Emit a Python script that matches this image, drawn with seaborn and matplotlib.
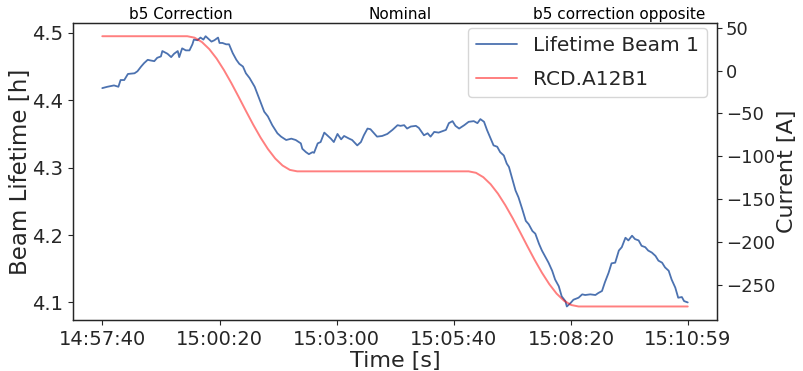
import matplotlib
matplotlib.use("Agg")
import matplotlib.pyplot as plt
from matplotlib.ticker import FuncFormatter
import pandas as pd
import seaborn as sns

# Clock time of the first sample (seconds since midnight)
T0 = 14 * 3600 + 57 * 60 + 40

# Beam 1 lifetime, seconds after T0 and hours
lifetime_t = [
    0, 7, 16, 22, 25, 30, 35, 44, 48, 53,
    57, 62, 66, 71, 75, 80, 82, 89, 94, 98,
    103, 105, 109, 114, 119, 123, 125, 130, 134, 138,
    141, 149, 153, 158, 160, 164, 169, 173, 178, 183,
    187, 192, 196, 201, 208, 214, 221, 226, 232, 239,
    244, 251, 258, 264, 271, 273, 278, 282, 287, 289,
    294, 298, 303, 307, 312, 316, 321, 326, 330, 337,
    341, 348, 353, 357, 362, 366, 371, 375, 382, 389,
    396, 403, 407, 412, 416, 421, 428, 432, 439, 444,
    448, 453, 459, 464, 469, 473, 478, 482, 487, 494,
    500, 507, 512, 516, 521, 525, 530, 534, 539, 543,
    548, 552, 555, 564, 568, 573, 578, 582, 587, 591,
    596, 600, 605, 609, 614, 618, 623, 627, 632, 634,
    639, 643, 650, 655, 659, 666, 673, 677, 682, 686,
    691, 695, 700, 705, 709, 714, 718, 723, 727, 732,
    736, 741, 745, 750, 755, 759, 764, 768, 773, 777,
    782, 786, 791, 794, 799,
]
lifetime_h = [
    4.418, 4.420, 4.422, 4.420, 4.430, 4.430, 4.439, 4.440, 4.443, 4.450,
    4.455, 4.460, 4.459, 4.458, 4.463, 4.465, 4.473, 4.469, 4.464, 4.469,
    4.473, 4.464, 4.477, 4.474, 4.474, 4.483, 4.490, 4.489, 4.493, 4.490,
    4.495, 4.487, 4.489, 4.493, 4.485, 4.485, 4.483, 4.483, 4.470, 4.460,
    4.454, 4.450, 4.440, 4.433, 4.420, 4.403, 4.383, 4.376, 4.363, 4.351,
    4.346, 4.341, 4.343, 4.341, 4.336, 4.328, 4.323, 4.320, 4.323, 4.322,
    4.336, 4.338, 4.352, 4.348, 4.343, 4.338, 4.350, 4.342, 4.347, 4.343,
    4.341, 4.333, 4.338, 4.348, 4.358, 4.357, 4.351, 4.346, 4.347, 4.350,
    4.356, 4.363, 4.362, 4.363, 4.358, 4.361, 4.362, 4.359, 4.348, 4.351,
    4.346, 4.353, 4.352, 4.354, 4.356, 4.366, 4.369, 4.362, 4.358, 4.363,
    4.368, 4.369, 4.366, 4.372, 4.368, 4.356, 4.343, 4.333, 4.331, 4.323,
    4.318, 4.306, 4.301, 4.266, 4.256, 4.239, 4.221, 4.216, 4.206, 4.202,
    4.187, 4.177, 4.167, 4.159, 4.147, 4.134, 4.124, 4.109, 4.102, 4.094,
    4.099, 4.104, 4.107, 4.112, 4.111, 4.112, 4.111, 4.114, 4.117, 4.130,
    4.144, 4.158, 4.159, 4.177, 4.182, 4.196, 4.192, 4.199, 4.194, 4.192,
    4.184, 4.182, 4.177, 4.174, 4.169, 4.162, 4.159, 4.152, 4.147, 4.134,
    4.122, 4.107, 4.108, 4.102, 4.100,
]

# RCD.A12B1 corrector current, seconds after T0 and amperes
current_t = [
    0, 116, 126, 136, 146, 156, 166, 176, 186, 196, 206, 216,
    226, 236, 246, 256, 266,
    500, 510, 520, 530, 540, 550, 560, 570, 580, 590, 600,
    610, 620, 630, 640, 650, 799,
]
current_a = [
    40.0, 40.0, 38.3, 33.2, 25.0, 14.0, 0.6, -14.4, -30.5, -47.0, -63.1, -78.1,
    -91.4, -102.5, -110.7, -115.8, -117.5,
    -117.5, -119.2, -124.3, -132.5, -143.5, -156.9, -171.9, -188.0, -204.5,
    -220.6, -235.6, -248.9, -260.0, -268.2, -273.3, -275.0, -275.0,
]

time_ticks = [0, 160, 320, 480, 640, 799]
phase_labels = ["b5 Correction", "Nominal", "b5 correction opposite"]
phase_pos = [0.168, 0.508, 0.848]

lifetime = pd.DataFrame({"t": lifetime_t, "lifetime": lifetime_h})
current = pd.DataFrame({"t": current_t, "current": current_a})

sns.set_theme(style="ticks", rc={
    "xtick.major.size": 3.5, "ytick.major.size": 3.5,
    "xtick.major.pad": 3.5, "ytick.major.pad": 3.5,
    "xtick.major.width": 0.8, "ytick.major.width": 0.8,
    "axes.linewidth": 0.9,
})
plt.rcParams["font.family"] = ["DejaVu Sans"]

fig = plt.figure(figsize=(8.04, 3.71), dpi=100)
ax = fig.add_axes([0.0908, 0.1375, 0.8010, 0.8013])
ax2 = ax.twinx()

sns.lineplot(data=lifetime, x="t", y="lifetime", ax=ax, color="#4C72B0",
             lw=1.3, label="Lifetime Beam 1", legend=False)
sns.lineplot(data=current, x="t", y="current", ax=ax2, color="red",
             alpha=0.5, lw=1.4, label="RCD.A12B1", legend=False)


def clock(sec, _pos=None):
    s = int(round(T0 + sec))
    return f"{s // 3600:02d}:{(s % 3600) // 60:02d}:{s % 60:02d}"


ax.set_xticks(time_ticks)
ax.xaxis.set_major_formatter(FuncFormatter(clock))

ax.set_xlabel("Time [s]", fontsize=16, labelpad=2)
ax.set_ylabel("Beam Lifetime [h]", fontsize=16.5, labelpad=0)
ax2.set_ylabel("Current [A]", fontsize=16, labelpad=1)
ax.tick_params(labelsize=14)
ax2.tick_params(labelsize=13, pad=3)

h1, l1 = ax.get_legend_handles_labels()
h2, l2 = ax2.get_legend_handles_labels()
ax2.legend(h1 + h2, l1 + l2, loc="upper right", fontsize=14.5,
           labelspacing=0.75, borderaxespad=0,
           bbox_to_anchor=(0.984, 0.983))

for txt, xp in zip(phase_labels, phase_pos):
    ax.text(xp, 1.028, txt, transform=ax.transAxes, ha="center",
            va="center", fontsize=11, color="black")

fig.savefig("out.png", dpi=100)
